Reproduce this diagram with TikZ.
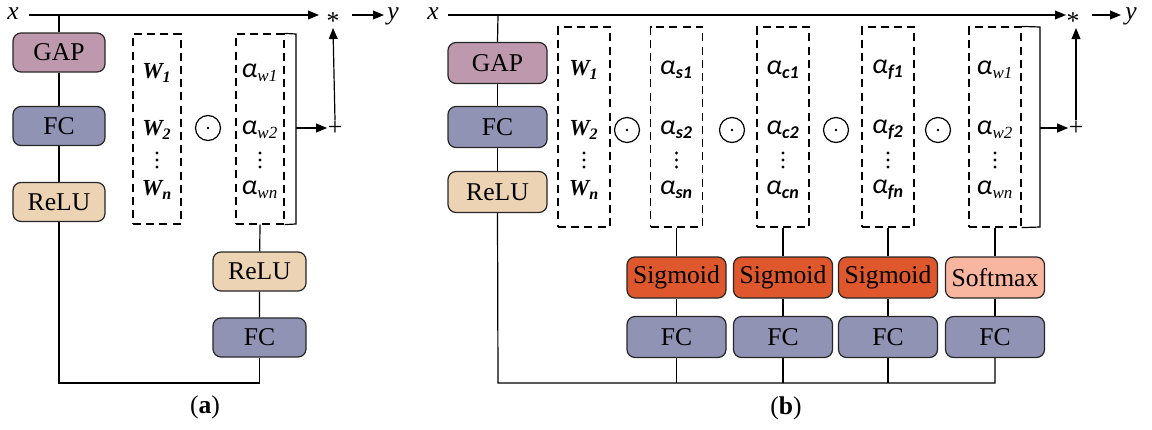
\documentclass[tikz,border=0pt]{standalone}
\usepackage{fontspec}
\setmainfont{Liberation Serif}
\newfontfamily\carl{Carlito}
\usetikzlibrary{arrows.meta}
\definecolor{cgap}{RGB}{190,152,172}
\definecolor{cfc}{RGB}{145,147,181}
\definecolor{crelu}{RGB}{235,211,180}
\definecolor{csig}{RGB}{223,87,44}
\definecolor{csoft}{RGB}{248,181,160}
\newcommand{\alS}[1]{{\carl\itshape\fontsize{14}{16}\selectfont α}\textsubscript{\carl\bfseries\itshape\fontsize{9}{10}\selectfont #1}}
\newcommand{\alW}[1]{{\carl\itshape\fontsize{14}{16}\selectfont α}\textsubscript{\itshape\fontsize{8.5}{10}\selectfont #1}}
\newcommand{\Wv}[1]{{\bfseries\itshape\fontsize{11.5}{13}\selectfont W\textsubscript{\fontsize{8}{9}\selectfont #1}}}
\begin{document}
\begin{tikzpicture}[x=0.5pt,y=-0.5pt,
  font=\fontsize{12.8}{15}\selectfont,
  line width=0.6pt,
  arr/.style={-{Triangle[length=5.5pt,width=4.4pt]}},
  blk/.style={draw=black!85, rounded corners=4pt, inner sep=0pt, text=black},
  blka/.style={blk, minimum width=46pt, minimum height=19.5pt},
  blkb/.style={blk, minimum width=49.5pt, minimum height=20.5pt},
  dboxa/.style={draw, dash pattern=on 4pt off 2.6pt, minimum width=24pt, minimum height=95pt, inner sep=0pt},
  dboxb/.style={draw, dash pattern=on 4pt off 2.6pt, minimum width=26pt, minimum height=100pt, inner sep=0pt},
  odot/.style={circle, draw, minimum size=12.5pt, inner sep=0pt,
    path picture={\fill (path picture bounding box.center) circle (0.7pt);}},
  lbl/.style={inner sep=0pt}
]
\useasboundingbox (0,0) rectangle (1152,429);

% vertical ellipsis dots
\foreach \xx in {157,260,584,676.5,783,888,995}
  \foreach \dd in {-7,0,7}
    \fill (\xx,160+\dd) circle (0.85pt);

% ================= panel (a) =================
\node[lbl] (xa) at (13,14) {\itshape x};
\node[lbl] (stara) at (333,21) {*};
\node[lbl] (ya) at (393,16) {\itshape y};
\node[lbl] (plusa) at (335,128) {+};
\coordinate (ja) at (59,15);
\coordinate (bla) at (59,383);

\node[blka, fill=cgap] (gapa) at (59,52.5) {GAP};
\node[blka, fill=cfc] (fca1) at (59,126) {FC};
\node[blka, fill=crelu] (relua1) at (59,202) {ReLU};

\node[dboxa] (wa) at (157,129) {};
\node[lbl] (wa1) at (157,73) {\Wv{1}};
\node[lbl] (wa2) at (157,130) {\Wv{2}};
\node[lbl] (wan) at (157,190) {\Wv{n}};

\node[odot] (oa) at (208,128) {};

\node[dboxa] (aa) at (260,129) {};
\node[lbl] (aa1) at (260,73) {\alW{w1}};
\node[lbl] (aa2) at (260,130) {\alW{w2}};
\node[lbl] (aan) at (260,190) {\alW{wn}};
\coordinate (bra) at (296,128);

\node[blka, fill=crelu, minimum width=46.5pt] (relua2) at (259.5,271.5) {ReLU};
\node[blka, fill=cfc, minimum width=46.5pt] (fca2) at (259.5,337.5) {FC};

\draw[arr] (29,15) -- (319,15);
\draw[arr] (352,15) -- (384,15);
\draw (ja) -- (gapa.north);
\draw (gapa) -- (fca1) -- (relua1);
\draw (relua1.south) -- (bla) -| (fca2.south);
\draw (fca2) -- (relua2) -- (aa.south);
\draw (aa.north east) -- (296,34) -- (296,224) -- (aa.south east);
\draw[arr] (bra) -- (plusa.west);
\draw[arr] (plusa.north) -- (333,28);
\node[lbl] (capa) at (205,407) {(\textbf{a})};

% ================= panel (b) =================
\node[lbl] (xb) at (433,14) {\itshape x};
\node[lbl] (starb) at (1073,21) {*};
\node[lbl] (yb) at (1131,16) {\itshape y};
\node[lbl] (plusb) at (1076,128) {+};
\coordinate (jb) at (498,15);
\coordinate (blb) at (498,383);

\node[blkb, fill=cgap] (gapb) at (497.5,63) {GAP};
\node[blkb, fill=cfc] (fcb1) at (497.5,127) {FC};
\node[blkb, fill=crelu] (relub1) at (497.5,192) {ReLU};

\node[dboxb] (wb) at (584,127) {};
\node[lbl] (wb1) at (584,70) {\Wv{1}};
\node[lbl] (wb2) at (584,130) {\Wv{2}};
\node[lbl] (wbn) at (584,190) {\Wv{n}};

\node[odot] (ob1) at (627,130) {};
\node[odot] (ob2) at (732,130) {};
\node[odot] (ob3) at (836,130) {};
\node[odot] (ob4) at (938,130) {};

\node[dboxb] (as) at (676.5,127) {};
\node[lbl] (as1) at (676.5,70) {\alS{s1}};
\node[lbl] (as2) at (676.5,130) {\alS{s2}};
\node[lbl] (asn) at (676.5,190) {\alS{sn}};

\node[dboxb] (ac) at (783,127) {};
\node[lbl] (ac1) at (783,70) {\alS{c1}};
\node[lbl] (ac2) at (783,130) {\alS{c2}};
\node[lbl] (acn) at (783,190) {\alS{cn}};

\node[dboxb] (af) at (888,127) {};
\node[lbl] (af1) at (888,70) {\alS{f1}};
\node[lbl] (af2) at (888,130) {\alS{f2}};
\node[lbl] (afn) at (888,190) {\alS{fn}};

\node[dboxb] (aw) at (995,127) {};
\node[lbl] (aw1) at (995,70) {\alW{w1}};
\node[lbl] (aw2) at (995,130) {\alW{w2}};
\node[lbl] (awn) at (995,190) {\alW{wn}};
\coordinate (brb) at (1040,128);

\node[blkb, fill=csig] (sig1) at (676.5,277.5) {Sigmoid};
\node[blkb, fill=csig] (sig2) at (783,277.5) {Sigmoid};
\node[blkb, fill=csig] (sig3) at (888,277.5) {Sigmoid};
\node[blkb, fill=csoft] (soft) at (995,277.5) {Softmax};
\node[blkb, fill=cfc] (fcs) at (676.5,337) {FC};
\node[blkb, fill=cfc] (fcc) at (783,337) {FC};
\node[blkb, fill=cfc] (fcf) at (888,337) {FC};
\node[blkb, fill=cfc] (fcw) at (995,337) {FC};

\draw[arr] (448,15) -- (1066,15);
\draw[arr] (1092,15) -- (1121,15);
\draw (jb) -- (gapb.north);
\draw (gapb) -- (fcb1) -- (relub1);
\draw (relub1.south) -- (blb) -| (fcw.south);
\draw (fcs.south) -- (fcs.south |- blb);
\draw (fcc.south) -- (fcc.south |- blb);
\draw (fcf.south) -- (fcf.south |- blb);
\draw (fcs) -- (sig1) -- (as.south);
\draw (fcc) -- (sig2) -- (ac.south);
\draw (fcf) -- (sig3) -- (af.south);
\draw (fcw) -- (soft) -- (aw.south);
\draw (aw.north east) -- (1040,27) -- (1040,227) -- (aw.south east);
\draw[arr] (brb) -- (plusb.west);
\draw[arr] (plusb.north) -- (1076,28);
\node[lbl] (capb) at (786,408) {(\textbf{b})};
\end{tikzpicture}
\end{document}
